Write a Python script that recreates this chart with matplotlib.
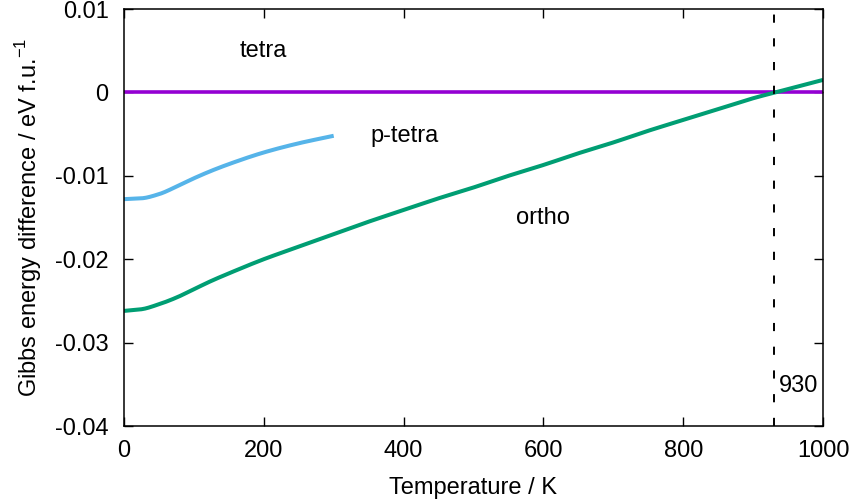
import matplotlib
matplotlib.use("Agg")
import matplotlib.pyplot as plt
import numpy as np

# Gibbs energy of each phase relative to the tetragonal phase (eV per formula unit)
temp_ortho = [0, 25, 50, 75, 100, 125, 150, 200, 250, 300, 350, 400, 450, 500,
              550, 600, 650, 700, 750, 800, 850, 900, 950, 1000]
g_ortho = [-0.0262, -0.0260, -0.0254, -0.0246, -0.0236, -0.0226, -0.0217,
           -0.0200, -0.0185, -0.0170, -0.0155, -0.0141, -0.0127, -0.0114,
           -0.0100, -0.0087, -0.0073, -0.0060, -0.0046, -0.0033, -0.0020,
           -0.0007, 0.0004, 0.0015]

temp_ptetra = [0, 25, 50, 75, 100, 125, 150, 200, 250, 300]
g_ptetra = [-0.0128, -0.0127, -0.0122, -0.0113, -0.0103, -0.0094, -0.0086,
            -0.0072, -0.0061, -0.0052]

temp_tetra = [0, 1000]
g_tetra = [0.0, 0.0]

transition_T = 930

xticks = [0, 200, 400, 600, 800, 1000]
yticks = [-0.04, -0.03, -0.02, -0.01, 0, 0.01]
ytick_labels = ["-0.04", "-0.03", "-0.02", "-0.01", "0", "0.01"]


def smooth(x, y, n=400):
    """Monotone cubic (PCHIP) rendering of a tabulated curve."""
    x = np.asarray(x, float)
    y = np.asarray(y, float)
    h = np.diff(x)
    d = np.diff(y) / h
    m = np.zeros_like(y)
    for k in range(1, len(x) - 1):
        if d[k - 1] * d[k] > 0:
            w1 = 2 * h[k] + h[k - 1]
            w2 = h[k] + 2 * h[k - 1]
            m[k] = (w1 + w2) / (w1 / d[k - 1] + w2 / d[k])
    m[0] = d[0]
    m[-1] = d[-1]
    xs = np.linspace(x[0], x[-1], n)
    idx = np.clip(np.searchsorted(x, xs) - 1, 0, len(x) - 2)
    t = (xs - x[idx]) / h[idx]
    h00 = 2 * t**3 - 3 * t**2 + 1
    h10 = t**3 - 2 * t**2 + t
    h01 = -2 * t**3 + 3 * t**2
    h11 = t**3 - t**2
    ys = (h00 * y[idx] + h10 * h[idx] * m[idx] + h01 * y[idx + 1]
          + h11 * h[idx] * m[idx + 1])
    return xs, ys


plt.rcParams['font.family'] = ['Liberation Sans', 'DejaVu Sans']
plt.rcParams['font.size'] = 17

fig = plt.figure(figsize=(8.55, 5.01), dpi=100)
ax = fig.add_axes([0.1450, 0.1497, 0.8176, 0.8323])

ax.plot(temp_tetra, g_tetra, color='#9400D3', lw=2.6, solid_capstyle='butt')
ax.plot(*smooth(temp_ptetra, g_ptetra), color='#56B4E9', lw=2.9,
        solid_capstyle='butt')
ax.plot(*smooth(temp_ortho, g_ortho), color='#009E73', lw=2.9,
        solid_capstyle='butt')
ax.axvline(transition_T, color='black', lw=1.4, linestyle=(0, (4.2, 8.0)))

ax.text(200, 0.0050, "tetra", ha='center', va='center')
ax.text(402, -0.0052, "p-tetra", ha='center', va='center')
ax.text(600, -0.0151, "ortho", ha='center', va='center')
ax.text(937, -0.0352, str(transition_T), ha='left', va='center')

ax.set_xlim(0, 1000)
ax.set_ylim(-0.04, 0.01)
ax.set_xticks(xticks)
ax.set_yticks(yticks)
ax.set_yticklabels(ytick_labels)
ax.tick_params(direction='in', length=6.5, width=1.0, top=True, right=True)
ax.tick_params(axis='y', pad=11)
ax.tick_params(axis='x', pad=10)
for s in ax.spines.values():
    s.set_linewidth(1.1)

ax.set_xlabel("Temperature / K", labelpad=11)
ax.set_ylabel("Gibbs energy difference / eV f.u.$^{\\mathregular{-1}}$", labelpad=8)

fig.savefig("out.png", dpi=100)
